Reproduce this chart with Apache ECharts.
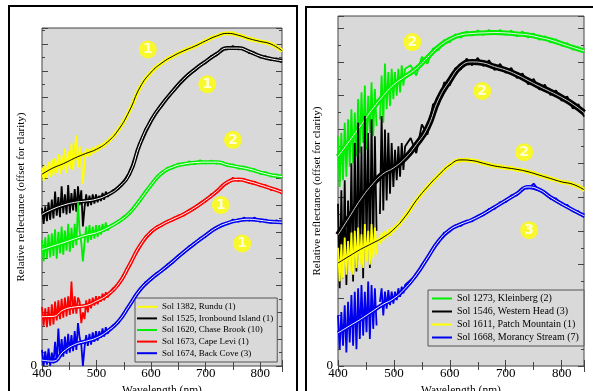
<!DOCTYPE html>
<html><head><meta charset="utf-8">
<script src="https://cdn.jsdelivr.net/npm/echarts@6/dist/echarts.min.js"></script>
<style>html,body{margin:0;padding:0;background:#fff}#c{width:593px;height:391px}</style>
</head><body><div id="c"></div>
<script>
// Wavelength sampling of the measured spectra (nm)
const wl = [400,403,406,409,412,415,418,421,424,427,430,433,436,439,442,445,448,451,454,457,460,463,466,469,472,475,478,481,484,487,490,493,496,499,502,505,508,511,514,517,520,
  530,540,550,560,570,580,590,600,610,620,630,640,650,660,670,680,690,700,710,720,730,740,750,760,770,780,790,800,810,820,830,840];
// Wavelength sampling of the fitted (smoothed) curves (nm)
const wlFit = [400,420,440,460,480,500,520,540,560,580,600,620,640,660,680,700,720,740,760,780,800,820,840];

// ---- Left panel ----
const rundu = [7.4,6.9,7.5,7.0,7.6,7.05,7.7,7.1,7.75,7.2,7.9,7.15,7.85,7.3,8.1,7.2,8.0,7.35,8.3,7.3,8.1,8.6,7.4,8.2,7.5,6.8,7.6,8.1,7.8,8.1,7.85,8.15,7.95,8.2,8.0,8.25,8.1,8.3,8.15,8.4,8.3,
  8.6,8.75,9.18,9.45,10.0,10.35,10.78,10.9,11.2,11.25,11.5,11.5,11.72,11.7,11.9,11.88,12.08,12.08,12.28,12.26,12.42,12.36,12.45,12.3,12.32,12.16,12.2,12.06,12.1,11.96,11.95,11.72];
const runduFit = [7.15,7.38,7.55,7.75,7.92,8.08,8.35,8.8,9.5,10.4,10.95,11.3,11.55,11.75,11.92,12.12,12.3,12.4,12.33,12.2,12.1,12.0,11.75];

const ironbound = [5.9,5.3,5.95,5.4,6.1,5.45,6.2,5.5,6.5,5.6,6.3,5.55,6.7,5.7,6.4,5.65,6.75,5.7,6.45,5.8,6.6,5.75,6.7,6.0,6.55,5.2,5.9,6.4,5.95,6.35,6.0,6.4,6.05,6.4,6.1,6.35,6.15,6.45,6.2,6.5,6.3,
  6.55,6.6,6.9,7.1,7.75,8.25,8.85,9.1,9.52,9.7,10.05,10.2,10.53,10.65,10.93,11.0,11.25,11.3,11.55,11.58,11.8,11.8,11.93,11.8,11.85,11.66,11.68,11.5,11.55,11.4,11.47,11.32];
const ironboundFit = [5.65,5.85,6.0,6.1,6.15,6.22,6.38,6.65,7.15,8.3,9.15,9.75,10.25,10.7,11.05,11.35,11.63,11.85,11.85,11.72,11.55,11.45,11.38];

const chaseBrook = [4.7,3.9,4.8,4.0,4.9,4.05,4.95,4.1,5.1,4.0,5.0,4.2,5.2,4.15,5.05,4.3,5.3,4.25,5.15,4.4,5.3,4.5,6.1,5.0,4.6,3.9,4.6,5.2,4.6,5.25,4.7,5.2,4.75,5.25,4.8,5.25,4.9,5.3,5.0,5.35,5.05,
  5.3,5.33,5.58,5.65,5.98,6.15,6.55,6.7,7.06,7.15,7.4,7.36,7.55,7.48,7.63,7.52,7.67,7.55,7.66,7.54,7.62,7.44,7.52,7.36,7.44,7.28,7.34,7.16,7.23,7.06,7.15,7.0];
const chaseBrookFit = [4.34,4.47,4.6,4.74,4.87,4.97,5.15,5.38,5.7,6.2,6.75,7.2,7.42,7.53,7.58,7.6,7.6,7.5,7.42,7.34,7.22,7.12,7.06];

const capeLevi = [2.2,1.5,2.15,1.45,2.2,1.5,2.3,1.55,2.4,1.7,2.45,1.75,2.5,1.8,2.55,1.85,2.6,1.9,3.15,1.95,2.6,1.95,2.55,2.4,1.6,2.0,1.75,2.45,2.0,2.5,2.15,2.55,2.25,2.6,2.3,2.6,2.4,2.7,2.45,2.75,2.55,
  2.9,3.0,3.42,3.7,4.2,4.45,4.84,4.95,5.2,5.22,5.42,5.42,5.61,5.61,5.82,5.85,6.08,6.13,6.4,6.45,6.74,6.8,7.02,6.9,6.98,6.82,6.87,6.7,6.74,6.56,6.6,6.42];
const capeLeviFit = [1.84,1.85,2.1,2.2,2.25,2.42,2.65,3.05,3.75,4.5,5.0,5.27,5.47,5.66,5.9,6.18,6.5,6.85,6.95,6.87,6.75,6.62,6.48];

const backCove = [0.6,0.0,0.55,0.05,0.65,0.0,0.5,0.1,0.9,0.15,1.4,0.3,1.0,0.35,1.1,0.45,1.2,0.5,1.15,0.55,1.3,0.6,1.6,1.05,0.8,0.0,0.7,1.15,0.75,1.2,0.8,1.25,0.9,1.3,0.95,1.3,1.05,1.4,1.1,1.45,1.2,
  1.52,1.6,1.99,2.2,2.62,2.8,3.14,3.2,3.47,3.52,3.79,3.85,4.13,4.2,4.47,4.52,4.78,4.82,5.07,5.1,5.31,5.28,5.46,5.38,5.53,5.42,5.53,5.38,5.46,5.33,5.43,5.3];
const backCoveFit = [0.22,0.18,0.55,0.8,0.92,1.05,1.3,1.66,2.25,2.85,3.25,3.57,3.9,4.25,4.57,4.87,5.15,5.33,5.43,5.47,5.43,5.38,5.36];

// ---- Right panel ----
const kleinberg = [6.8,5.3,6.9,5.5,7.2,5.6,7.3,5.9,7.6,6.0,7.5,6.2,7.9,6.3,8.1,6.6,8.3,6.4,8.0,6.9,8.4,6.8,8.2,7.1,null,7.3,8.6,7.2,8.95,7.6,8.7,7.7,8.8,7.9,8.7,8.0,8.8,8.1,8.9,8.3,8.8,
  8.9,8.6,9.15,8.95,9.4,9.35,9.65,9.58,9.82,9.72,9.9,9.78,9.93,9.8,9.95,9.82,9.95,9.8,9.93,9.76,9.9,9.72,9.84,9.66,9.76,9.58,9.67,9.48,9.56,9.36,9.44,9.27];
const kleinbergFit = [6.2,6.65,7.1,7.57,7.98,8.33,8.57,8.8,9.13,9.45,9.67,9.8,9.84,9.86,9.87,9.86,9.83,9.8,9.73,9.65,9.54,9.43,9.33];

const westernHead = [4.8,2.3,5.2,2.6,5.5,2.4,4.9,3.0,6.0,2.5,6.6,2.8,7.2,3.1,6.5,2.6,7.4,3.4,6.9,2.9,7.3,3.6,6.8,4.0,null,4.5,7.4,4.6,7.0,4.9,6.9,5.1,6.6,5.3,6.4,5.5,6.5,5.6,6.6,5.8,6.5,
  6.75,6.3,7.15,6.85,7.75,7.75,8.4,8.3,8.82,8.78,9.1,8.9,9.12,8.88,9.05,8.76,8.94,8.68,8.82,8.52,8.66,8.34,8.5,8.18,8.33,8.02,8.16,7.85,7.98,7.62,7.75,7.38];
const westernHeadFit = [3.88,4.4,4.92,5.35,5.68,5.87,6.15,6.55,7.05,7.9,8.45,8.88,9.0,8.97,8.86,8.76,8.62,8.45,8.28,8.12,7.95,7.75,7.5];

const patchMountain = [3.5,2.5,3.6,2.6,3.8,2.7,3.7,2.8,3.95,2.7,4.0,2.9,4.1,3.0,3.9,2.9,4.2,3.1,4.0,3.0,4.2,3.2,4.1,3.3,null,3.6,3.95,3.7,4.0,3.8,4.05,3.85,4.1,3.95,4.15,4.05,4.25,4.15,4.35,4.3,4.5,
  4.7,4.85,5.17,5.25,5.53,5.6,5.85,5.9,6.1,6.05,6.15,6.03,6.09,5.95,6.01,5.87,5.95,5.82,5.9,5.77,5.83,5.7,5.75,5.6,5.65,5.5,5.55,5.4,5.47,5.33,5.35,5.17];
const patchMountainFit = [3.05,3.25,3.45,3.62,3.8,4.05,4.42,4.9,5.3,5.65,5.95,6.1,6.08,6.0,5.92,5.87,5.82,5.75,5.65,5.55,5.45,5.38,5.22];

const morancy = [1.5,0.5,1.6,0.6,1.8,0.4,1.9,0.7,2.1,0.6,2.2,0.5,2.3,0.8,2.4,0.9,2.2,1.0,2.5,0.8,2.4,1.1,2.3,1.2,null,1.9,2.3,1.5,2.2,1.7,2.25,1.8,2.2,1.85,2.2,1.95,2.3,2.05,2.35,2.15,2.4,
  2.55,2.65,3.0,3.15,3.5,3.65,3.95,3.98,4.17,4.15,4.3,4.28,4.45,4.46,4.65,4.65,4.85,4.85,5.05,5.05,5.27,5.25,5.4,5.18,5.16,4.95,4.96,4.76,4.77,4.58,4.58,4.4];
const morancyFit = [0.98,1.18,1.38,1.6,1.82,2.0,2.3,2.7,3.2,3.7,4.03,4.2,4.33,4.5,4.7,4.9,5.1,5.3,5.22,5.0,4.8,4.62,4.45];

// Numbered yellow markers (wavelength, offset reflectance, label)
const leftMarkX = [594, 703, 750, 728, 767];
const leftMarkY = [11.8, 10.5, 8.43, 6.0, 4.57];
const leftMarkLabel = ['1','1','2','1','1'];
const rightMarkX = [533, 658, 733, 742];
const rightMarkY = [9.59, 8.14, 6.33, 4.02];
const rightMarkLabel = ['2','2','2','3'];

const xTickLabels = ['400','500','600','700','800'];

const leftCurves = [
  {name:'Sol 1382, Rundu (1)', color:'#ffff00', fitColor:'#000000', raw:rundu, fit:runduFit, band:4},
  {name:'Sol 1525, Ironbound Island (1)', color:'#000000', fitColor:'#ffffff', raw:ironbound, fit:ironboundFit, band:4},
  {name:'Sol 1620, Chase Brook (10)', color:'#00ee00', fitColor:'#ffffff', raw:chaseBrook, fit:chaseBrookFit, band:4},
  {name:'Sol 1673, Cape Levi (1)', color:'#ff0000', fitColor:'#ffffff', raw:capeLevi, fit:capeLeviFit, band:4},
  {name:'Sol 1674, Back Cove (3)', color:'#0000ee', fitColor:'#ffffff', raw:backCove, fit:backCoveFit, band:4}
];
const rightCurves = [
  {name:'Sol 1273, Kleinberg (2)', color:'#00ee00', fitColor:'#eeeeee', raw:kleinberg, fit:kleinbergFit, band:5},
  {name:'Sol 1546, Western Head (3)', color:'#000000', fitColor:'#cccccc', raw:westernHead, fit:westernHeadFit, band:6},
  {name:'Sol 1611, Patch Mountain (1)', color:'#ffff00', fitColor:'#000000', raw:patchMountain, fit:patchMountainFit, band:4},
  {name:'Sol 1668, Morancy Stream (7)', color:'#0000ee', fitColor:'#ffffff', raw:morancy, fit:morancyFit, band:4}
];

const FONT = 'Liberation Serif';
const BG = '#d9d9d9';
function pairs(xs, ys){ return xs.map((x,i)=>[x, ys[i]==null ? '-' : ys[i]]); }

function buildSeries(curves, gi, zBase){
  const out = [];
  curves.forEach((c,k)=>{
    const z = zBase + k*3;
    const ax = {xAxisIndex: gi*2, yAxisIndex: gi*2};
    out.push(Object.assign({type:'line', data:pairs(wlFit, c.fit), smooth:0.5, symbol:'none',
      lineStyle:{color:c.color, width:c.band}, z:z, silent:true}, ax));
    out.push(Object.assign({type:'line', name:c.name, data:pairs(wl, c.raw), symbol:'none', connectNulls:false,
      lineStyle:{color:c.color, width:1.8, join:'bevel'}, itemStyle:{color:c.color}, z:z+1, silent:true}, ax));
    out.push(Object.assign({type:'line', data:pairs(wlFit, c.fit), smooth:0.5, symbol:'none',
      lineStyle:{color:c.fitColor, width:1}, z:z+2, silent:true}, ax));
  });
  return out;
}
function marks(xs, ys, labs, gi){
  return {type:'scatter', xAxisIndex:gi*2, yAxisIndex:gi*2, z:60, silent:true,
    data: xs.map((x,i)=>[x, ys[i], labs[i]]), symbolSize:18, itemStyle:{color:'#ffff00'},
    label:{show:true, position:'inside', formatter:p=>p.value[2], color:'#ffffff', fontSize:14, fontWeight:'bold', fontFamily:'DejaVu Sans'}};
}

const tickStyle = {color:'#444', width:1};
function xAx(gi, pos, withLabels){
  return {type:'value', gridIndex:gi, position:pos, min:400, max:840, interval:100,
    axisLine:{show:false}, splitLine:{show:false},
    axisTick:{show:true, inside:true, length:6, lineStyle:tickStyle},
    minorTick:{show:true, splitNumber:2, length:4, lineStyle:tickStyle},
    axisLabel:{show:withLabels, margin:1, showMaxLabel:false, fontFamily:FONT, fontSize:13, color:'#000',
      formatter:v=>{const s=String(v); return xTickLabels.indexOf(s)>=0 ? s : '';}},
    name: withLabels ? 'Wavelength (nm)' : '', nameLocation:'middle', nameGap:14,
    nameTextStyle:{fontFamily:FONT, fontSize:11.5, color:'#000'}};
}
function yAx(gi, pos, max, withLabels){
  return {type:'value', gridIndex:gi, position:pos, min:0, max:max, interval:1,
    axisLine:{show:false}, splitLine:{show:false},
    axisTick:{show:true, inside:true, length:6, lineStyle:tickStyle},
    minorTick:{show:true, splitNumber:2, length:3, lineStyle:tickStyle},
    axisLabel:{show:withLabels, margin:5, showMaxLabel:false, fontFamily:FONT, fontSize:13, color:'#000',
      formatter:v=> v===0 ? '0' : ''},
    name: withLabels ? 'Relative reflectance (offset for clarity)' : '', nameLocation:'middle', nameGap:14,
    nameTextStyle:{fontFamily:FONT, fontSize:11, color:'#000'}};
}
function legendOf(curves, left, top, fontSize, lineHeight, pad, itemWidth){
  return {data:curves.map(c=>c.name), orient:'vertical', left:left, top:top, icon:'rect',
    itemWidth:itemWidth, itemHeight:2, itemGap:0, padding:pad, selectedMode:false,
    borderColor:'#555', borderWidth:1, backgroundColor:BG,
    textStyle:{fontFamily:FONT, fontSize:fontSize, lineHeight:lineHeight, color:'#000'}};
}

const chart = echarts.init(document.getElementById('c'), null, {renderer:'canvas'});
chart.setOption({
  animation:false,
  backgroundColor:'#ffffff',
  grid:[
    {left:42, top:28, width:240, height:338, show:true, backgroundColor:BG, borderColor:'#444', borderWidth:1, outerBoundsMode:'none', containLabel:false},
    {left:338, top:16, width:246, height:350, show:true, backgroundColor:BG, borderColor:'#444', borderWidth:1, outerBoundsMode:'none', containLabel:false}
  ],
  xAxis:[xAx(0,'bottom',true), xAx(0,'top',false), xAx(1,'bottom',true), xAx(1,'top',false)],
  yAxis:[yAx(0,'left',12.6,true), yAx(0,'right',12.6,false), yAx(1,'left',10.36,true), yAx(1,'right',10.36,false)],
  legend:[
    legendOf(leftCurves, 135, 298, 9, 11.6, [3,4,3,2], 20),
    legendOf(rightCurves, 428, 290, 10, 13, [2,5,2,4], 20)
  ],
  graphic:[
    {type:'rect', silent:true, shape:{x:9, y:6, width:288, height:420}, style:{fill:null, stroke:'#000', lineWidth:2}},
    {type:'rect', silent:true, shape:{x:306, y:7, width:300, height:420}, style:{fill:null, stroke:'#000', lineWidth:2}}
  ],
  series: [].concat(
    buildSeries(leftCurves, 0, 10),
    buildSeries(rightCurves, 1, 10),
    [marks(leftMarkX, leftMarkY, leftMarkLabel, 0), marks(rightMarkX, rightMarkY, rightMarkLabel, 1)]
  )
});
</script></body></html>
